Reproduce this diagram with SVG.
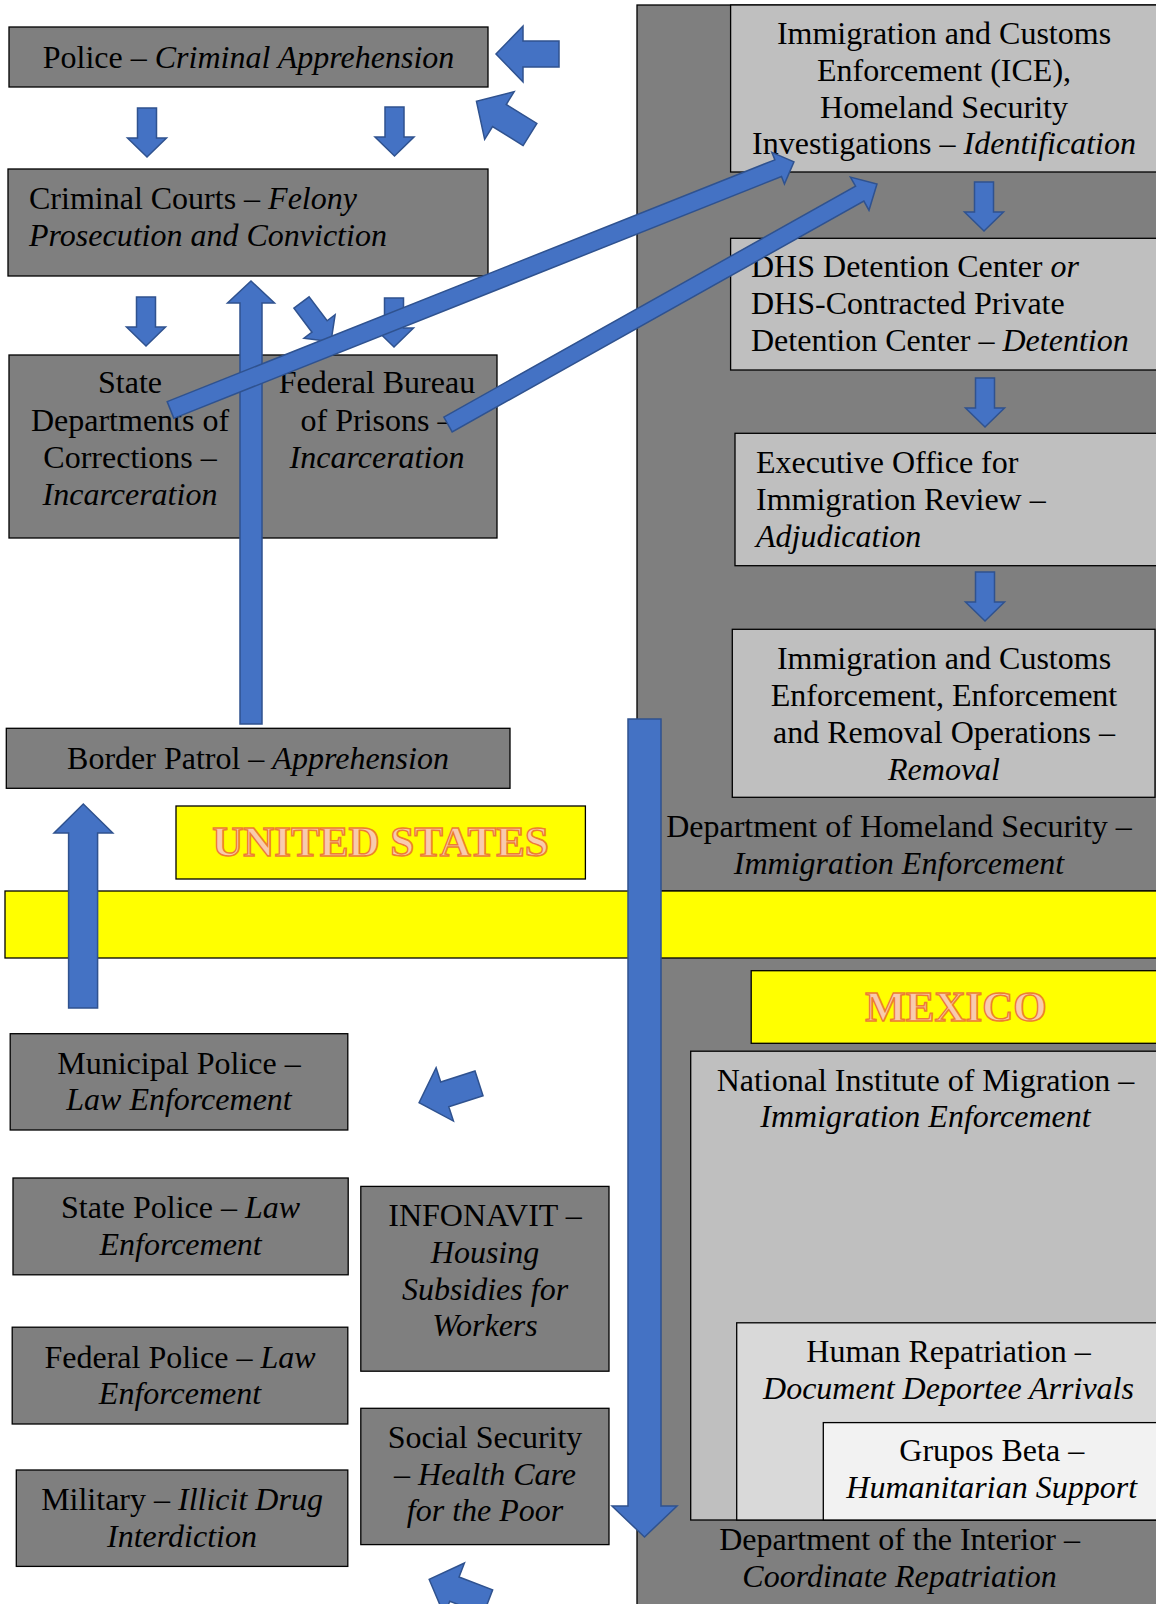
<svg xmlns="http://www.w3.org/2000/svg" xmlns:xlink="http://www.w3.org/1999/xlink" width="1156" height="1604" viewBox="0 0 1156 1604">
<style>
.box{fill:#7F7F7F;stroke:#000;stroke-width:1.3}
.lbox{fill:#BFBFBF;stroke:#000;stroke-width:1.3}
.panel{fill:#7F7F7F;stroke:#000;stroke-width:1.3}
.ybox{fill:#FFFF00;stroke:#000;stroke-width:1.3}
text{font-family:"Liberation Serif","Times New Roman",serif;font-size:32px;fill:#000}
.m{text-anchor:middle}
.i{font-style:italic}
.country{font-weight:bold;font-size:43px;fill:#F8CBAD;stroke:#ED7D31;stroke-width:1.5}
.arr{fill:#4472C4;stroke:#2F528F;stroke-width:1.5}
</style>
<defs>
<path id="blk" d="M0,-13 L36,-13 L36,-28 L63,0 L36,28 L36,13 L0,13 Z"/>
<path id="dn" d="M-9.5,0 L9.5,0 L9.5,30 L19.5,30 L0,49 L-19.5,30 L-9.5,30 Z"/>
</defs>
<rect width="1156" height="1604" fill="#fff"/>

<g id="dhs-panel">
<rect class="panel" x="637" y="5" width="530" height="886"/>
<text class="m" x="899" y="836.5">Department of Homeland Security –</text>
<text class="m i" x="899" y="873.5">Immigration Enforcement</text>
</g>
<g id="interior-panel">
<rect class="panel" x="637" y="957" width="530" height="660"/>
<text class="m" x="899.5" y="1550">Department of the Interior –</text>
<text class="m i" x="899.5" y="1587">Coordinate Repatriation</text>
</g>
<g id="border">
<rect class="ybox" x="5" y="891" width="1160" height="67"/>
</g>

<g id="police">
<rect class="box" x="9" y="27" width="479" height="60"/>
<text class="m" x="248.5" y="67.5">Police – <tspan class="i">Criminal Apprehension</tspan></text>
</g>
<g id="courts">
<rect class="box" x="8" y="169" width="480" height="107"/>
<text x="29" y="209">Criminal Courts – <tspan class="i">Felony</tspan></text>
<text class="i" x="29" y="246">Prosecution and Conviction</text>
</g>
<g id="state-doc">
<rect class="box" x="9" y="355" width="242" height="183"/>
<text class="m" x="130" y="393">State</text>
<text class="m" x="130" y="430.5">Departments of</text>
<text class="m" x="130" y="468">Corrections –</text>
<text class="m i" x="130" y="505">Incarceration</text>
</g>
<g id="bop">
<rect class="box" x="251" y="355" width="246" height="183"/>
<text class="m" x="377" y="393">Federal Bureau</text>
<text class="m" x="377" y="430.5">of Prisons –</text>
<text class="m i" x="377" y="468">Incarceration</text>
</g>
<g id="border-patrol">
<rect class="box" x="6.3" y="728.3" width="503.7" height="60"/>
<text class="m" x="258" y="768.5">Border Patrol – <tspan class="i">Apprehension</tspan></text>
</g>
<g id="us-label">
<rect class="ybox" x="176" y="806" width="409.4" height="73"/>
<text class="m country" x="380.5" y="856">UNITED STATES</text>
</g>

<g id="ice-hsi">
<rect class="lbox" x="730.6" y="5" width="430" height="167"/>
<text class="m" x="944" y="44.3">Immigration and Customs</text>
<text class="m" x="944" y="81">Enforcement (ICE),</text>
<text class="m" x="944" y="117.5">Homeland Security</text>
<text class="m" x="944" y="154">Investigations – <tspan class="i">Identification</tspan></text>
</g>
<g id="detention">
<rect class="lbox" x="730.6" y="238.3" width="430" height="131.7"/>
<text x="751" y="277">DHS Detention Center <tspan class="i">or</tspan></text>
<text x="751" y="314">DHS-Contracted Private</text>
<text x="751" y="351">Detention Center – <tspan class="i">Detention</tspan></text>
</g>
<g id="eoir">
<rect class="lbox" x="735" y="433.3" width="425" height="132.4"/>
<text x="756" y="472.5">Executive Office for</text>
<text x="756" y="509.5">Immigration Review –</text>
<text class="i" x="756" y="546.5">Adjudication</text>
</g>
<g id="ice-ero">
<rect class="lbox" x="732.3" y="629.3" width="422.7" height="168"/>
<text class="m" x="944" y="668.5">Immigration and Customs</text>
<text class="m" x="944" y="705.5">Enforcement, Enforcement</text>
<text class="m" x="944" y="742.5">and Removal Operations –</text>
<text class="m i" x="944" y="779.5">Removal</text>
</g>

<g id="mexico-label">
<rect class="ybox" x="751.2" y="970.7" width="410" height="72.6"/>
<text class="m country" x="956" y="1021">MEXICO</text>
</g>
<g id="inm">
<rect class="lbox" x="690.7" y="1051.2" width="470" height="468.8"/>
<text class="m" x="925.5" y="1091">National Institute of Migration –</text>
<text class="m i" x="925.5" y="1127">Immigration Enforcement</text>
</g>
<g id="human-repatriation">
<rect x="736.7" y="1322.8" width="424" height="197.2" fill="#D9D9D9" stroke="#000" stroke-width="1.3"/>
<text class="m" x="948.5" y="1362">Human Repatriation –</text>
<text class="m i" x="948.5" y="1398.5">Document Deportee Arrivals</text>
</g>
<g id="grupos-beta">
<rect x="823.3" y="1422.6" width="337" height="97.4" fill="#F2F2F2" stroke="#000" stroke-width="1.3"/>
<text class="m" x="991.7" y="1461">Grupos Beta –</text>
<text class="m i" x="991.7" y="1498">Humanitarian Support</text>
</g>

<g id="municipal-police">
<rect class="box" x="10.2" y="1033.7" width="337.6" height="96.3"/>
<text class="m" x="179" y="1073.5">Municipal Police –</text>
<text class="m i" x="179" y="1110">Law Enforcement</text>
</g>
<g id="state-police">
<rect class="box" x="13" y="1178" width="335.2" height="96.8"/>
<text class="m" x="180.6" y="1218">State Police – <tspan class="i">Law</tspan></text>
<text class="m i" x="180.6" y="1254.5">Enforcement</text>
</g>
<g id="federal-police">
<rect class="box" x="12.2" y="1327.2" width="335.6" height="96.8"/>
<text class="m" x="180" y="1367.5">Federal Police – <tspan class="i">Law</tspan></text>
<text class="m i" x="180" y="1404">Enforcement</text>
</g>
<g id="military">
<rect class="box" x="16.3" y="1470" width="331.5" height="96.4"/>
<text class="m" x="182" y="1510">Military – <tspan class="i">Illicit Drug</tspan></text>
<text class="m i" x="182" y="1546.5">Interdiction</text>
</g>
<g id="infonavit">
<rect class="box" x="360.8" y="1186.4" width="248.2" height="184.8"/>
<text class="m" x="485" y="1226">INFONAVIT –</text>
<text class="m i" x="485" y="1263">Housing</text>
<text class="m i" x="485" y="1300">Subsidies for</text>
<text class="m i" x="485" y="1336">Workers</text>
</g>
<g id="social-security">
<rect class="box" x="360.8" y="1408.3" width="248.2" height="136.3"/>
<text class="m" x="485" y="1448">Social Security</text>
<text class="m" x="485" y="1484.5">– <tspan class="i">Health Care</tspan></text>
<text class="m i" x="485" y="1521">for the Poor</text>
</g>

<g id="connectors">
<use href="#blk" class="arr" transform="translate(559,54) rotate(180)"/>
<use href="#blk" class="arr" transform="translate(530,134.5) rotate(211.8)"/>
<use href="#blk" class="arr" transform="translate(479,1083.3) rotate(162)"/>
<use href="#blk" class="arr" transform="translate(488,1602) rotate(201)"/>
<use href="#dn" class="arr" transform="translate(147,108)"/>
<use href="#dn" class="arr" transform="translate(394.5,107)"/>
<use href="#dn" class="arr" transform="translate(146,297)"/>
<use href="#dn" class="arr" transform="translate(394,298)"/>
<use href="#dn" class="arr" transform="translate(301.5,302.5) rotate(-37)"/>
<use href="#dn" class="arr" transform="translate(984,182)"/>
<use href="#dn" class="arr" transform="translate(985,378)"/>
<use href="#dn" class="arr" transform="translate(985,572)"/>
<polygon class="arr" points="240,724 240,303 227.5,303 251,281 274.5,303 262,303 262,724"/>
<polygon class="arr" points="628,719 661,719 661,1506 677,1506 644.5,1537 612,1506 628,1506"/>
<polygon class="arr" points="68.6,1008 68.6,833 54,833 83.3,804 112.8,833 97.6,833 97.6,1008"/>
<path class="arr" transform="translate(170.5,410) rotate(-21.7)" d="M0,-9 L654,-9 L654,-17 L671,0 L654,17 L654,9 L0,9 Z"/>
<path class="arr" transform="translate(448,424.5) rotate(-29.28)" d="M0,-8.5 L472,-8.5 L472,-19 L491.8,0 L472,19 L472,8.5 L0,8.5 Z"/>
</g>
</svg>
